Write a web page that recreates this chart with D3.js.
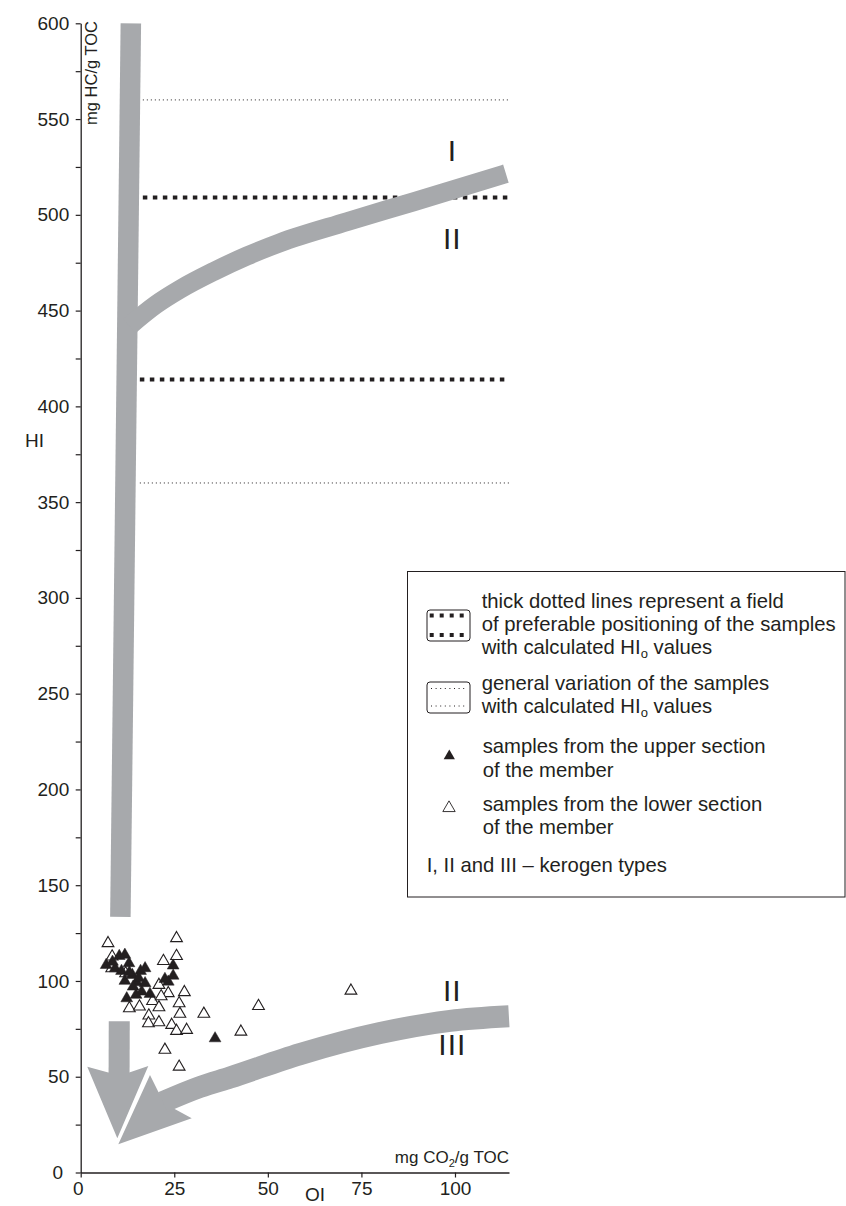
<!DOCTYPE html>
<html>
<head>
<meta charset="utf-8">
<script src="https://cdn.jsdelivr.net/npm/d3@7"></script>
<style>
  html, body { margin: 0; padding: 0; background: #fff; }
  svg { display: block; font-family: "Liberation Sans", Arial, Helvetica, sans-serif; }
</style>
</head>
<body>
<svg id="chart" width="846" height="1206"></svg>
<script>
// ---- axis ticks ----
const hiTicks = d3.range(0, 601, 25);          // HI ticks (labelled every 50)
const oiTicks = [0, 25, 50, 75, 100];           // OI ticks

// ---- samples: [OI, HI] ----
const upperSamples = [
  [6.8,108.3],[10.3,113],[11.8,113.6],[12.9,109.2],[9.2,106.6],[10.9,105.2],
  [13.8,103.1],[16,105.2],[17.2,106.6],[24.7,108],[24.7,102.7],[23.4,99.6],
  [11.8,100],[15,99.3],[14,97],[17.2,98.8],[16.3,94.4],[18.5,93.2],[14.8,92.7],
  [12.3,90.9],[15.5,101.5],[13,104.5],[8.5,110],[22.5,101],[35.9,70]
];
const lowerSamples = [
  [7.3,119.7],[25.6,122.3],[25.6,113],[22.1,110.4],[8.4,112.7],[8.3,106.6],
  [20.9,97.9],[27.7,94.1],[23.4,93.6],[19.2,89.5],[26.3,88.3],[20.9,86.2],
  [13,85.7],[15.7,86.6],[26.5,82.8],[32.9,82.8],[18.2,81.9],[18.1,77.9],
  [20.9,78.4],[24.3,77],[25.6,73.9],[28.3,74.4],[22.5,64],[26.3,55.2],
  [47.5,86.9],[42.8,73.5],[72.2,94.9],[12,104],[21.5,92]
];

// ---- HIo fields: HI level and OI where each dotted line begins ----
const thickFieldHI = [509, 414];
const thickFieldStart = [16.6, 15.8];
const thinFieldHI = [560, 360];
const thinFieldStart = [16.6, 15.8];

// ---- kerogen evolution paths [OI, HI] ----
const typeIShaftUpper = [[13.4, 600], [10.6, 133.4]];
const typeIShaftLower = [[10.3, 79], [10.25, 50]];
const typeIHead = [[1.76,55.24],[7.37,52.21],[12.98,52.21],[18.06,55.6],[9.78,17.86]];
const typeIIBranch = [[13.0,442],[20,453],[26.5,461.1],[35.4,470.3],[44.4,478.5],[53.2,485.4],[71.1,496.4],[88.9,506.8],[113.6,521.5]];
const typeIIIShaft = [[22.0,36.8],[31.87,44.64],[39.9,49.6],[58.6,61.8],[80,72.8],[98.7,79.2],[114.4,81.6]];
const typeIIIHead = [[18.51,50.9],[20.73,42.18],[24.74,33.52],[29.66,28.3],[10.05,14.72]];

// ---- kerogen type labels [OI, HI, text] ----
const typeLabels = [[99.3, 528, "I"], [99.3, 482, "II"], [99.3, 89.5, "II"], [99.3, 61.5, "III"]];

const grey = "#a7a9ac";
const ink = "#231f20";

const svg = d3.select("#chart");

const x = d3.scaleLinear().domain([0, 114.43]).range([80.7, 509]);
const y = d3.scaleLinear().domain([0, 600]).range([1172.5, 23.3]);

const line = d3.line().x(d => x(d[0])).y(d => y(d[1]));
const smooth = d3.line().x(d => x(d[0])).y(d => y(d[1])).curve(d3.curveMonotoneX);

// ---- dotted HIo field lines ----
const fields = svg.append("g");
thickFieldHI.forEach((hi, i) => {
  fields.append("path")
    .attr("d", line([[thickFieldStart[i], hi], [114.43, hi]]))
    .attr("fill", "none").attr("stroke", ink)
    .attr("stroke-width", 4).attr("stroke-dasharray", "4.5,5.5");
});
thinFieldHI.forEach((hi, i) => {
  fields.append("path")
    .attr("d", line([[thinFieldStart[i], hi], [114.43, hi]]))
    .attr("fill", "none").attr("stroke", ink)
    .attr("stroke-width", 1).attr("stroke-dasharray", "1,3");
});

// ---- evolution paths (grey) ----
const paths = svg.append("g");
paths.append("path").attr("d", line(typeIShaftUpper))
  .attr("fill", "none").attr("stroke", grey).attr("stroke-width", 20.5);
paths.append("path").attr("d", smooth(typeIIBranch))
  .attr("fill", "none").attr("stroke", grey).attr("stroke-width", 19);
paths.append("path").attr("d", line(typeIShaftLower))
  .attr("fill", "none").attr("stroke", grey).attr("stroke-width", 21);
paths.append("path").attr("d", line(typeIHead) + "Z").attr("fill", grey);
// white edge separating the two arrowheads
paths.append("path").attr("d", line([typeIIIHead[0], typeIIIHead[4]]))
  .attr("fill", "none").attr("stroke", "#fff").attr("stroke-width", 5);
paths.append("path").attr("d", line(typeIIIHead) + "Z").attr("fill", grey);
paths.append("path").attr("d", smooth(typeIIIShaft))
  .attr("fill", "none").attr("stroke", grey).attr("stroke-width", 22);

// ---- kerogen type labels ----
svg.append("g").selectAll("text").data(typeLabels).join("text")
  .attr("x", d => x(d[0])).attr("y", d => y(d[1]))
  .attr("text-anchor", "middle")
  .attr("font-size", 30).attr("letter-spacing", 1).attr("fill", ink)
  .text(d => d[2]);

// ---- samples ----
const tri = d3.symbol().type(d3.symbolTriangle).size(60);
svg.append("g").selectAll("path").data(lowerSamples).join("path")
  .attr("d", tri)
  .attr("transform", d => `translate(${x(d[0])},${y(d[1])})`)
  .attr("fill", "#fff").attr("stroke", ink).attr("stroke-width", 1.1);
svg.append("g").selectAll("path").data(upperSamples).join("path")
  .attr("d", tri)
  .attr("transform", d => `translate(${x(d[0])},${y(d[1])})`)
  .attr("fill", ink).attr("stroke", ink).attr("stroke-width", 0.5);

// ---- axes ----
const yAxis = d3.axisLeft(y).tickValues(hiTicks).tickSize(5).tickSizeOuter(0).tickPadding(6.5)
  .tickFormat(d => d % 50 === 0 ? d : "");
const gy = svg.append("g").attr("transform", "translate(80.7,0)").call(yAxis);
const xAxis = d3.axisBottom(x).tickValues(oiTicks).tickSize(5).tickSizeOuter(0).tickPadding(4);
const gx = svg.append("g").attr("transform", "translate(0,1172.5)").call(xAxis);
[gx, gy].forEach(g => {
  g.select(".domain").attr("stroke", ink).attr("stroke-width", 1.3);
  g.selectAll(".tick line").attr("stroke", ink).attr("stroke-width", 1.2);
  g.selectAll(".tick text").attr("fill", ink).attr("font-size", 19)
    .attr("font-family", "Liberation Sans, Arial, sans-serif");
});
gy.selectAll(".tick").filter(d => d === 0).select("text").attr("dx", -6);
gx.selectAll(".tick").filter(d => d === 0).select("text").attr("dx", -3);

// axis titles and units
svg.append("text").attr("x", 25).attr("y", 447).attr("font-size", 19).attr("fill", ink).text("HI");
svg.append("text").attr("x", 315).attr("y", 1201).attr("text-anchor", "middle")
  .attr("font-size", 19).attr("fill", ink).text("OI");
svg.append("text").attr("transform", "translate(96.5,21) rotate(-90)")
  .attr("text-anchor", "end").attr("font-size", 16.5).attr("fill", ink).text("mg HC/g TOC");
const unitX = svg.append("text").attr("x", 509).attr("y", 1163).attr("text-anchor", "end")
  .attr("font-size", 17).attr("fill", ink);
unitX.append("tspan").text("mg CO");
unitX.append("tspan").attr("font-size", 11).attr("dy", 4).text("2");
unitX.append("tspan").attr("dy", -4).text("/g TOC");

// ---- legend ----
const lg = svg.append("g");
lg.append("rect").attr("x", 407.5).attr("y", 571.5).attr("width", 437.5).attr("height", 325.5)
  .attr("fill", "#fff").attr("stroke", ink).attr("stroke-width", 1);

// thick-dotted swatch
lg.append("rect").attr("x", 427).attr("y", 610).attr("width", 43).attr("height", 31).attr("rx", 3)
  .attr("fill", "none").attr("stroke", ink).attr("stroke-width", 1);
[615.5, 635].forEach(yy => lg.append("line")
  .attr("x1", 429.7).attr("x2", 467.7).attr("y1", yy).attr("y2", yy)
  .attr("stroke", ink).attr("stroke-width", 4).attr("stroke-dasharray", "4,6"));
// thin-dotted swatch
lg.append("rect").attr("x", 427).attr("y", 682).attr("width", 43).attr("height", 31).attr("rx", 3)
  .attr("fill", "none").attr("stroke", ink).attr("stroke-width", 1);
[688.5, 706].forEach(yy => lg.append("line")
  .attr("x1", 431).attr("x2", 467).attr("y1", yy).attr("y2", yy)
  .attr("stroke", ink).attr("stroke-width", 1).attr("stroke-dasharray", "1,3.6"));
// sample symbols
lg.append("path").attr("d", d3.symbol().type(d3.symbolTriangle).size(55)())
  .attr("transform", "translate(449.3,756)").attr("fill", ink);
lg.append("path").attr("d", d3.symbol().type(d3.symbolTriangle).size(66)())
  .attr("transform", "translate(449,808)").attr("fill", "#fff").attr("stroke", ink).attr("stroke-width", 0.9);

const legendLines = [
  [481.7, 608.3, "thick dotted lines represent a field"],
  [481.7, 630.7, "of preferable positioning of the samples"],
  [481.7, 654, "with calculated HI|o| values"],
  [481.7, 690, "general variation of the samples"],
  [481.7, 713.3, "with calculated HI|o| values"],
  [482.7, 753.3, "samples from the upper section"],
  [482.7, 776.7, "of the member"],
  [482.7, 810.7, "samples from the lower section"],
  [482.7, 834, "of the member"],
  [426.7, 871.7, "I, II and III \u2013 kerogen types"]
];
legendLines.forEach(([lx, ly, s]) => {
  const t = lg.append("text").attr("x", lx).attr("y", ly).attr("font-size", 20.3).attr("fill", ink);
  const parts = s.split("|");
  if (parts.length === 1) { t.text(s); return; }
  t.append("tspan").text(parts[0]);
  t.append("tspan").attr("font-size", 13).attr("dy", 4).text(parts[1]);
  t.append("tspan").attr("dy", -4).text(parts[2]);
});
</script>
</body>
</html>
